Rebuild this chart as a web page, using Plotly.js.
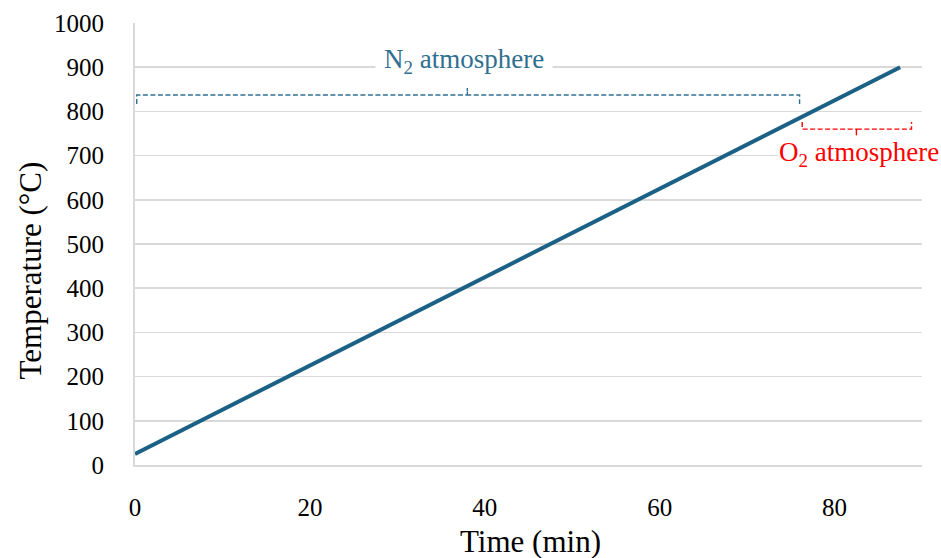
<!DOCTYPE html>
<html>
<head>
<meta charset="utf-8">
<script src="https://cdn.plot.ly/plotly-3.0.1.min.js"></script>
<style>html,body{margin:0;padding:0;background:#fff;}#chart{width:941px;height:558px;}</style>
</head>
<body>
<div id="chart"></div>
<script>
// Heating programme
const timeMin = [0, 87.5];
const tempC = [25, 900];

// N2 atmosphere bracket (dashed)
const n2BracketX = [0.2, 0.2, 38, 38, 38, 76, 76];
const n2BracketY = [817, 837, 837, 853, 837, 837, 817];
// O2 atmosphere bracket (dashed)
const o2BracketX = [76.3, 76.3, 82.5, 82.5, 82.5, 88.8, 88.8];
const o2BracketY = [776, 760, 760, 745, 760, 760, 776];

const xTicks = [0, 20, 40, 60, 80];
const yTicks = [0, 100, 200, 300, 400, 500, 600, 700, 800, 900, 1000];

const FONT = 'Liberation Serif, Times New Roman, serif';
const lineColor = '#1b6186';

const traces = [
  {x: n2BracketX, y: n2BracketY, mode: 'lines', line: {color: '#2f6f91', width: 1.4, dash: '5px,2.5px'}, hoverinfo: 'skip', showlegend: false, cliponaxis: false},
  {x: o2BracketX, y: o2BracketY, mode: 'lines', line: {color: '#ff0000', width: 1.4, dash: '5px,2.5px'}, hoverinfo: 'skip', showlegend: false, cliponaxis: false},
  {x: timeMin, y: tempC, mode: 'lines', line: {color: lineColor, width: 4}, showlegend: false}
];

const layout = {
  width: 941, height: 558,
  margin: {l: 135, r: 19, t: 23, b: 93},
  paper_bgcolor: '#fff', plot_bgcolor: '#fff',
  font: {family: FONT, color: '#000'},
  xaxis: {
    range: [0, 90], tickvals: xTicks, ticktext: xTicks.map(String),
    showgrid: false, zeroline: false, showline: true, linecolor: '#d9d9d9', linewidth: 2,
    ticks: '', tickfont: {family: FONT, size: 25, color: '#000'}, ticklabelstandoff: 19
  },
  yaxis: {
    range: [0, 1000], tickvals: yTicks, ticktext: yTicks.map(String),
    showgrid: true, gridcolor: '#d9d9d9', gridwidth: 1.5, zeroline: false,
    showline: true, linecolor: '#d9d9d9', linewidth: 2,
    ticks: '', tickfont: {family: FONT, size: 25, color: '#000'}, ticklabelstandoff: 24
  },
  annotations: [
    {x: 0.503, y: -0.172, xref: 'paper', yref: 'paper', text: 'Time (min)', showarrow: false,
     font: {family: FONT, size: 31, color: '#000'}, xanchor: 'center', yanchor: 'middle'},
    {x: -0.133, y: 0.441, xref: 'paper', yref: 'paper', text: 'Temperature (°C)', showarrow: false, textangle: -90,
     font: {family: FONT, size: 31, color: '#000'}, xanchor: 'center', yanchor: 'middle'},
    {x: 37.6, y: 915, xref: 'x', yref: 'y', text: 'N<sub>2</sub> atmosphere', showarrow: false,
     font: {family: FONT, size: 27, color: '#2f6f91'}, bgcolor: '#fff', borderpad: 8, xanchor: 'center', yanchor: 'middle'},
    {x: 82.8, y: 703, xref: 'x', yref: 'y', text: 'O<sub>2</sub> atmosphere', showarrow: false,
     font: {family: FONT, size: 27, color: '#ff0000'}, bgcolor: '#fff', borderpad: 1, xanchor: 'center', yanchor: 'middle'}
  ]
};

Plotly.newPlot('chart', traces, layout, {displayModeBar: false, staticPlot: true});
</script>
</body>
</html>
